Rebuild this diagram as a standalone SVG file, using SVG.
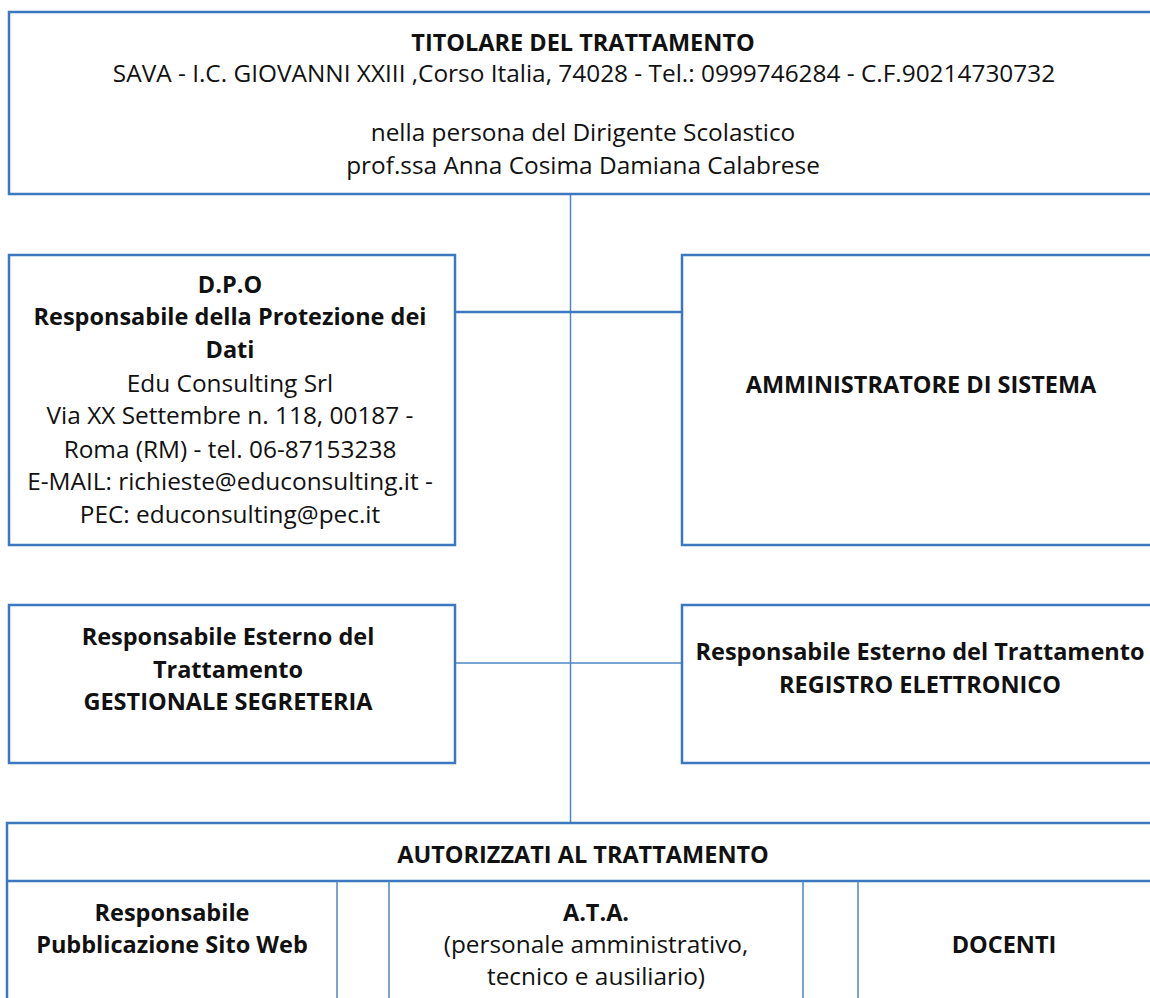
<svg xmlns="http://www.w3.org/2000/svg" width="1150" height="998" viewBox="0 0 1150 998">
<style>
.box{fill:#fff;stroke:#3b78bf;stroke-width:2.5}
.thin{fill:none;stroke:#4d86c6;stroke-width:1.5}
.thick{fill:none;stroke:#3b78bf;stroke-width:2.5}
text{font-family:"Open Sans",Lato,sans-serif;font-size:24.4px;fill:#111;text-anchor:middle}
.b{font-weight:bold;font-size:23.5px}
</style>
<rect width="1150" height="998" fill="#fff"/>
<g id="connectors">
<line class="thin" x1="570.5" y1="194" x2="570.5" y2="823"/>
<line class="thick" x1="455" y1="312" x2="682" y2="312"/>
<line class="thin" x1="455" y1="663" x2="682" y2="663"/>
</g>
<g id="titolare">
<rect class="box" x="9" y="12" width="1160" height="182"/>
<text class="b" x="583" y="51">TITOLARE DEL TRATTAMENTO</text>
<text x="584" y="82">SAVA - I.C. GIOVANNI XXIII ,Corso Italia, 74028 - Tel.: 0999746284 - C.F.90214730732</text>
<text x="583" y="141">nella persona del Dirigente Scolastico</text>
<text x="583" y="174">prof.ssa Anna Cosima Damiana Calabrese</text>
</g>
<g id="dpo">
<rect class="box" x="9" y="255" width="446" height="290"/>
<text class="b" x="230" y="293">D.P.O</text>
<text class="b" x="230" y="325">Responsabile della Protezione dei</text>
<text class="b" x="230" y="358">Dati</text>
<text x="230" y="392">Edu Consulting Srl</text>
<text x="230" y="424">Via XX Settembre n. 118, 00187 -</text>
<text x="230" y="458">Roma (RM) - tel. 06-87153238</text>
<text x="230" y="490">E-MAIL: richieste@educonsulting.it -</text>
<text x="230" y="523">PEC: educonsulting@pec.it</text>
</g>
<g id="admin">
<rect class="box" x="682" y="255" width="480" height="290"/>
<text class="b" x="921" y="393">AMMINISTRATORE DI SISTEMA</text>
</g>
<g id="gestionale">
<rect class="box" x="9" y="605" width="446" height="158"/>
<text class="b" x="228" y="645">Responsabile Esterno del</text>
<text class="b" x="228" y="678">Trattamento</text>
<text class="b" x="228" y="710">GESTIONALE SEGRETERIA</text>
</g>
<g id="registro">
<rect class="box" x="682" y="605" width="480" height="158"/>
<text class="b" x="920" y="660">Responsabile Esterno del Trattamento</text>
<text class="b" x="920" y="693">REGISTRO ELETTRONICO</text>
</g>
<g id="autorizzati">
<rect class="box" x="7" y="823" width="1160" height="190"/>
<line class="thick" x1="7" y1="881" x2="1160" y2="881"/>
<line class="thin" x1="337" y1="881" x2="337" y2="998"/>
<line class="thin" x1="389" y1="881" x2="389" y2="998"/>
<line class="thin" x1="803" y1="881" x2="803" y2="998"/>
<line class="thin" x1="858" y1="881" x2="858" y2="998"/>
<text class="b" x="583" y="863">AUTORIZZATI AL TRATTAMENTO</text>
</g>
<g id="web">
<text class="b" x="172" y="921">Responsabile</text>
<text class="b" x="172" y="953">Pubblicazione Sito Web</text>
</g>
<g id="ata">
<text class="b" x="596" y="921">A.T.A.</text>
<text x="596" y="953">(personale amministrativo,</text>
<text x="596" y="985">tecnico e ausiliario)</text>
</g>
<g id="docenti">
<text class="b" x="1004" y="953">DOCENTI</text>
</g>
</svg>
